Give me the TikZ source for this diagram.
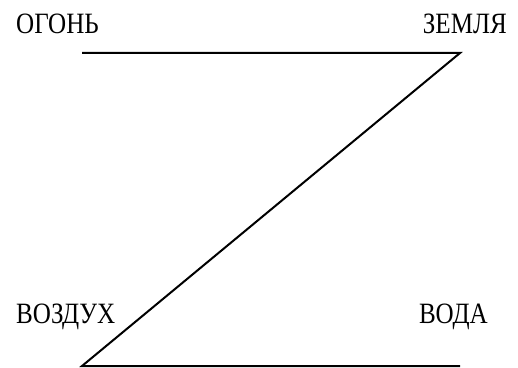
\documentclass[tikz,border=0pt]{standalone}
\usepackage{fontspec}
\setmainfont[FakeStretch=0.85]{Liberation Serif}
\begin{document}
\begin{tikzpicture}[x=1pt,y=1pt,
  lbl/.style={anchor=base west,inner sep=0pt,font=\fontsize{29.5}{34}\selectfont},
  edge/.style={line width=2pt}]
\useasboundingbox (0,0) rectangle (518,367);
\clip (0,0) rectangle (518,367);
\node[lbl] (fire) at (16,333) {ОГОНЬ};
\node[lbl,anchor=base east] (earth) at (507,333) {ЗЕМЛЯ};
\node[lbl] (air) at (16,44) {ВОЗДУХ};
\node[lbl,anchor=base east] (water) at (488,44) {ВОДА};
\coordinate (a) at (82,314);
\coordinate (b) at (460,314);
\coordinate (c) at (82,1);
\coordinate (d) at (460,1);
\draw[edge] (a) -- (b) -- (c) -- (d);
\end{tikzpicture}
\end{document}
